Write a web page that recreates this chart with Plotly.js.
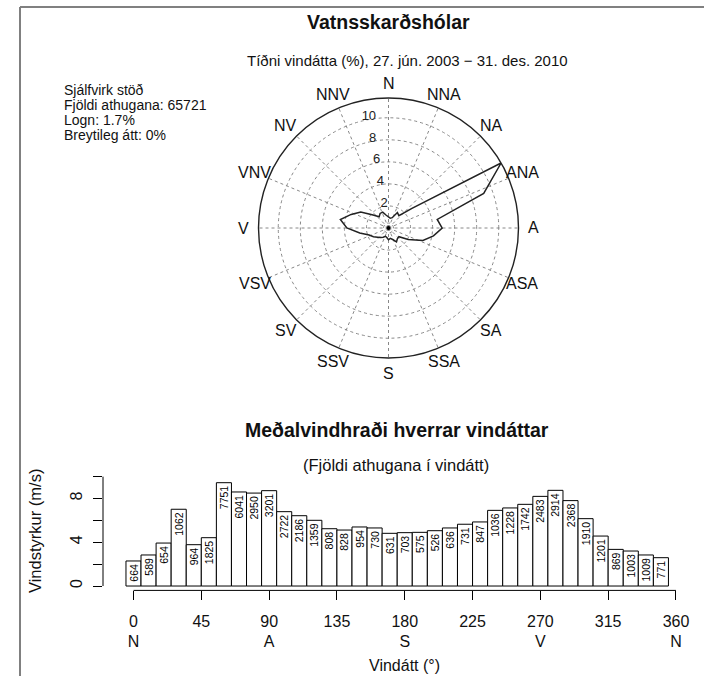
<!DOCTYPE html>
<html><head><meta charset="utf-8">
<script src="https://cdn.plot.ly/plotly-3.0.1.min.js"></script>
<style>html,body{margin:0;padding:0;background:#fff}#chart{width:704px;height:676px}</style>
</head><body><div id="chart"></div>
<script>
const directions = [0,10,20,30,40,50,60,70,80,90,100,110,120,130,140,150,160,170,180,190,200,210,220,230,240,250,260,270,280,290,300,310,320,330,340,350];
const counts = [664,589,654,1062,964,1825,7751,6041,2950,3201,2722,2186,1359,808,828,954,730,631,703,575,526,636,731,847,1036,1228,1742,2483,2914,2368,1910,1201,869,1003,1009,771];
const speeds = [2.29,2.84,3.93,7.02,3.78,4.42,9.45,8.6,8.5,8.72,6.8,6.43,6.01,5.24,5.12,5.4,5.31,4.82,4.88,4.91,5.06,5.31,5.65,5.86,6.92,7.14,7.47,8.2,8.75,7.81,6.16,4.57,3.35,3.2,2.84,2.59];
const totalObs = 65721;
const compassAngles = [0,22.5,45,67.5,90,112.5,135,157.5,180,202.5,225,247.5,270,292.5,315,337.5];
const compassLabels = ['N','NNA','NA','ANA','A','ASA','SA','SSA','S','SSV','SV','VSV','V','VNV','NV','NNV'];
const ringValues = [2,4,6,8,10];
const xTickVals = [0,45,90,135,180,225,270,315,360];
const xTickText = ['0<br>N','45<br> ','90<br>A','135<br> ','180<br>S','225<br> ','270<br>V','315<br> ','360<br>N'];
const yTickVals = [0,2,4,6,8,10];
const yTickText = ['0','','4','','8',''];
const infoLines = ['Sjálfvirk stöð','Fjöldi athugana: 65721','Logn: 1.7%','Breytileg átt: 0%'];

const W = 704, H = 676;
const px = x => x / W;
const py = y => 1 - y / H;
const FONT = 'Liberation Sans, Arial, sans-serif';

const freq = counts.map(c => c / totalObs * 100);
const rMax = Math.max(...freq);

// polar geometry (pixels)
const cx = 388.5, cy = 228, R = 130, labelR = 145;

const traces = [
  {
    type: 'scatterpolar', mode: 'lines',
    r: freq.concat([freq[0]]), theta: directions.concat([directions[0]]),
    line: {color: '#222', width: 1.5}, hoverinfo: 'skip', showlegend: false
  },
  {
    type: 'scatterpolar', mode: 'markers', r: [0], theta: [0],
    marker: {color: '#000', size: 4}, hoverinfo: 'skip', showlegend: false
  },
  {
    type: 'scatterpolar', mode: 'text',
    r: ringValues.map(v => v + 0.25), theta: ringValues.map(() => 350),
    text: ringValues.map(String), textposition: 'middle center',
    textfont: {family: FONT, size: 13, color: '#222'}, hoverinfo: 'skip', showlegend: false
  },
  {
    type: 'bar', x: directions, y: speeds, width: 10,
    marker: {color: '#fff', line: {color: '#000', width: 1}},
    text: counts.map(String), textposition: 'inside', insidetextanchor: 'end',
    textangle: -90, constraintext: 'none',
    insidetextfont: {family: FONT, size: 10.5, color: '#000'},
    xaxis: 'x', yaxis: 'y', hoverinfo: 'skip', showlegend: false
  }
];

// bar chart geometry
const xPix0 = 133.5, xPerDeg = 1.5069;
const plotLeft = 103, plotRight = 703;
const yTopPix = 472.3, yBotPix = 590.4;

const compassAnn = compassLabels.map((t, i) => {
  const a = compassAngles[i] * Math.PI / 180;
  return {text: t, x: px(cx + labelR * Math.sin(a)), y: py(cy - labelR * Math.cos(a)), font: {size: 16}};
});

const annotations = [
  {text: '<b>Vatnsskarðshólar</b>', x: px(388), y: py(22), font: {size: 19.5}},
  {text: 'Tíðni vindátta (%), 27. jún. 2003 − 31. des. 2010', x: px(407), y: py(61), font: {size: 15}},
  {text: '<b>Meðalvindhraði hverrar vindáttar</b>', x: px(396.5), y: py(430), font: {size: 19.5}},
  {text: '(Fjöldi athugana í vindátt)', x: px(396), y: py(465), font: {size: 16.5}},
  {text: 'Vindátt (°)', x: px(404), y: py(665), font: {size: 16}},
  {text: 'Vindstyrkur (m/s)', x: px(35), y: py(531), textangle: -90, font: {size: 16.5}}
].concat(infoLines.map((t, i) => ({
  text: t, x: px(62), y: py(90 + 15 * i), xanchor: 'left', font: {size: 14}
}))).concat(compassAnn).map(a => Object.assign({xref: 'paper', yref: 'paper', showarrow: false,
  xanchor: 'center', yanchor: 'middle'}, a, {font: Object.assign({family: FONT, color: '#111'}, a.font)}));

const layout = {
  width: W, height: H, margin: {l: 0, r: 0, t: 0, b: 0},
  paper_bgcolor: '#fff', plot_bgcolor: '#fff', showlegend: false,
  font: {family: FONT, color: '#111'},
  polar: {
    domain: {x: [px(cx - R), px(cx + R)], y: [py(cy + R), py(cy - R)]},
    bgcolor: '#fff',
    radialaxis: {
      range: [0, rMax], tickvals: [0.45].concat(ringValues), showticklabels: false, ticks: '',
      showline: false, gridcolor: '#888', griddash: 'dot', gridwidth: 1
    },
    angularaxis: {
      rotation: 90, direction: 'clockwise', tickmode: 'array',
      tickvals: compassAngles, ticktext: compassLabels, showticklabels: false, ticks: '',
      showline: true, linecolor: '#222', linewidth: 1.4,
      gridcolor: '#888', griddash: 'dot', gridwidth: 1
    }
  },
  xaxis: {
    domain: [px(plotLeft), px(plotRight)],
    range: [(plotLeft - xPix0) / xPerDeg, (plotRight - xPix0) / xPerDeg],
    tickmode: 'array', tickvals: xTickVals, ticktext: xTickText,
    ticks: 'outside', ticklen: 9, tickwidth: 1, tickcolor: '#000', ticklabelstandoff: 7,
    showline: false, showgrid: false, zeroline: false,
    tickfont: {family: FONT, size: 16, color: '#111'}, anchor: 'y'
  },
  yaxis: {
    domain: [py(yBotPix), py(yTopPix)], range: [-0.4, 10.4],
    tickmode: 'array', tickvals: yTickVals, ticktext: yTickText, tickangle: -90,
    ticks: 'outside', ticklen: 9, tickwidth: 1, tickcolor: '#000', ticklabelstandoff: 5,
    showline: false, showgrid: false, zeroline: false,
    tickfont: {family: FONT, size: 16, color: '#111'}, anchor: 'x'
  },
  shapes: [
    {type: 'line', xref: 'x', yref: 'paper', x0: 0, x1: 360, y0: py(yBotPix), y1: py(yBotPix), line: {color: '#000', width: 1}},
    {type: 'line', xref: 'paper', yref: 'y', x0: px(plotLeft), x1: px(plotLeft), y0: 0, y1: 10, line: {color: '#000', width: 1}},
    {type: 'line', xref: 'paper', yref: 'paper', x0: px(20), x1: 1, y0: py(7), y1: py(7), line: {color: '#808080', width: 2}},
    {type: 'line', xref: 'paper', yref: 'paper', x0: px(20), x1: px(20), y0: py(7), y1: 0, line: {color: '#808080', width: 2}}
  ],
  annotations: annotations
};

Plotly.newPlot('chart', traces, layout, {staticPlot: true, displayModeBar: false});
</script>
</body></html>
